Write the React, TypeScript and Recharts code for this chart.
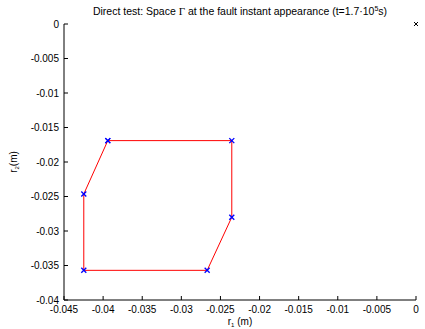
import React from 'react';
import { ScatterChart, Scatter, XAxis, YAxis, Label } from 'recharts';

// r1 (m) and r2 (m) coordinates of the space Γ vertices (closed polygon)
const r1Values = [-0.0394, -0.02355, -0.02355, -0.0267, -0.04247, -0.04247, -0.0394];
const r2Values = [-0.0169, -0.0169, -0.028, -0.0357, -0.0357, -0.02464, -0.0169];
// origin marker
const originR1 = [0];
const originR2 = [0];

const xTicks = [-0.045, -0.04, -0.035, -0.03, -0.025, -0.02, -0.015, -0.01, -0.005, 0];
const yTicks = [-0.04, -0.035, -0.03, -0.025, -0.02, -0.015, -0.01, -0.005, 0];

const polygonData = r1Values.map((x, i) => ({ x, y: r2Values[i] }));
const originData = originR1.map((x, i) => ({ x, y: originR2[i] }));

const FONT = '"Liberation Sans", Arial, Helvetica, sans-serif';
const fmt = (v: number) => String(+v.toFixed(3));

const makeCross = (color: string, s: number, w: number) => (props: any) => {
  const { cx, cy } = props;
  if (cx == null || cy == null) return <g />;
  return (
    <g>
      <line x1={cx - s} y1={cy - s} x2={cx + s} y2={cy + s} stroke={color} strokeWidth={w} />
      <line x1={cx - s} y1={cy + s} x2={cx + s} y2={cy - s} stroke={color} strokeWidth={w} />
    </g>
  );
};

const XLabel = (props: any) => {
  const vb = props.viewBox || {};
  const cx = vb.x + vb.width / 2;
  return (
    <text x={cx} y={325} textAnchor="middle" fontSize={10} fontFamily={FONT} fill="#000">
      r
      <tspan fontSize={6} dy={2}>1</tspan>
      <tspan dy={-2}> (m)</tspan>
    </text>
  );
};

const YLabel = (props: any) => {
  const vb = props.viewBox || {};
  const cy = vb.y + vb.height / 2;
  const x = 17;
  return (
    <text x={x} y={cy} transform={`rotate(-90 ${x} ${cy})`} textAnchor="middle" fontSize={10} fontFamily={FONT} fill="#000">
      r
      <tspan fontSize={6} dy={2}>2</tspan>
      <tspan dy={-2}>(m)</tspan>
    </text>
  );
};

export default function App() {
  return (
    <div style={{ position: 'absolute', left: 0, top: 0, width: 425, height: 329, background: '#fff' }}>
      <div
        style={{
          position: 'absolute',
          left: 64,
          top: 2,
          width: 352,
          textAlign: 'center',
          fontFamily: FONT,
          fontSize: 10.5,
          color: '#000',
          whiteSpace: 'nowrap',
          lineHeight: '14px',
        }}
      >
        Direct test: Space <span style={{ fontFamily: '"Liberation Serif", serif', fontSize: 11 }}>Γ</span> at the fault instant appearance (t=1.7·10
        <span style={{ fontSize: 7, verticalAlign: 4 }}>5</span>s)
      </div>
      <ScatterChart width={425} height={329} margin={{ top: 24, right: 9, bottom: 0, left: 10 }}>
        <XAxis
          type="number"
          dataKey="x"
          domain={[-0.045, 0]}
          ticks={xTicks}
          tickFormatter={fmt}
          height={29}
          stroke="#000"
          tickSize={-4}
          tickMargin={10}
          tick={{ fill: '#000', fontSize: 10, fontFamily: FONT }}
          tickLine={{ stroke: '#000' }}
          interval={0}
        >
          <Label content={<XLabel />} />
        </XAxis>
        <YAxis
          type="number"
          dataKey="y"
          domain={[-0.04, 0]}
          ticks={yTicks}
          tickFormatter={fmt}
          width={54}
          stroke="#000"
          tickSize={-4}
          tickMargin={9}
          tick={{ fill: '#000', fontSize: 10, fontFamily: FONT }}
          tickLine={{ stroke: '#000' }}
          interval={0}
        >
          <Label content={<YLabel />} />
        </YAxis>
        <Scatter
          data={polygonData}
          isAnimationActive={false}
          line={{ stroke: '#ff0000', strokeWidth: 1 }}
          lineType="joint"
          shape={makeCross('#0000ff', 2.5, 1.3)}
        />
        <Scatter data={originData} isAnimationActive={false} shape={makeCross('#000', 2, 1)} />
      </ScatterChart>
    </div>
  );
}
